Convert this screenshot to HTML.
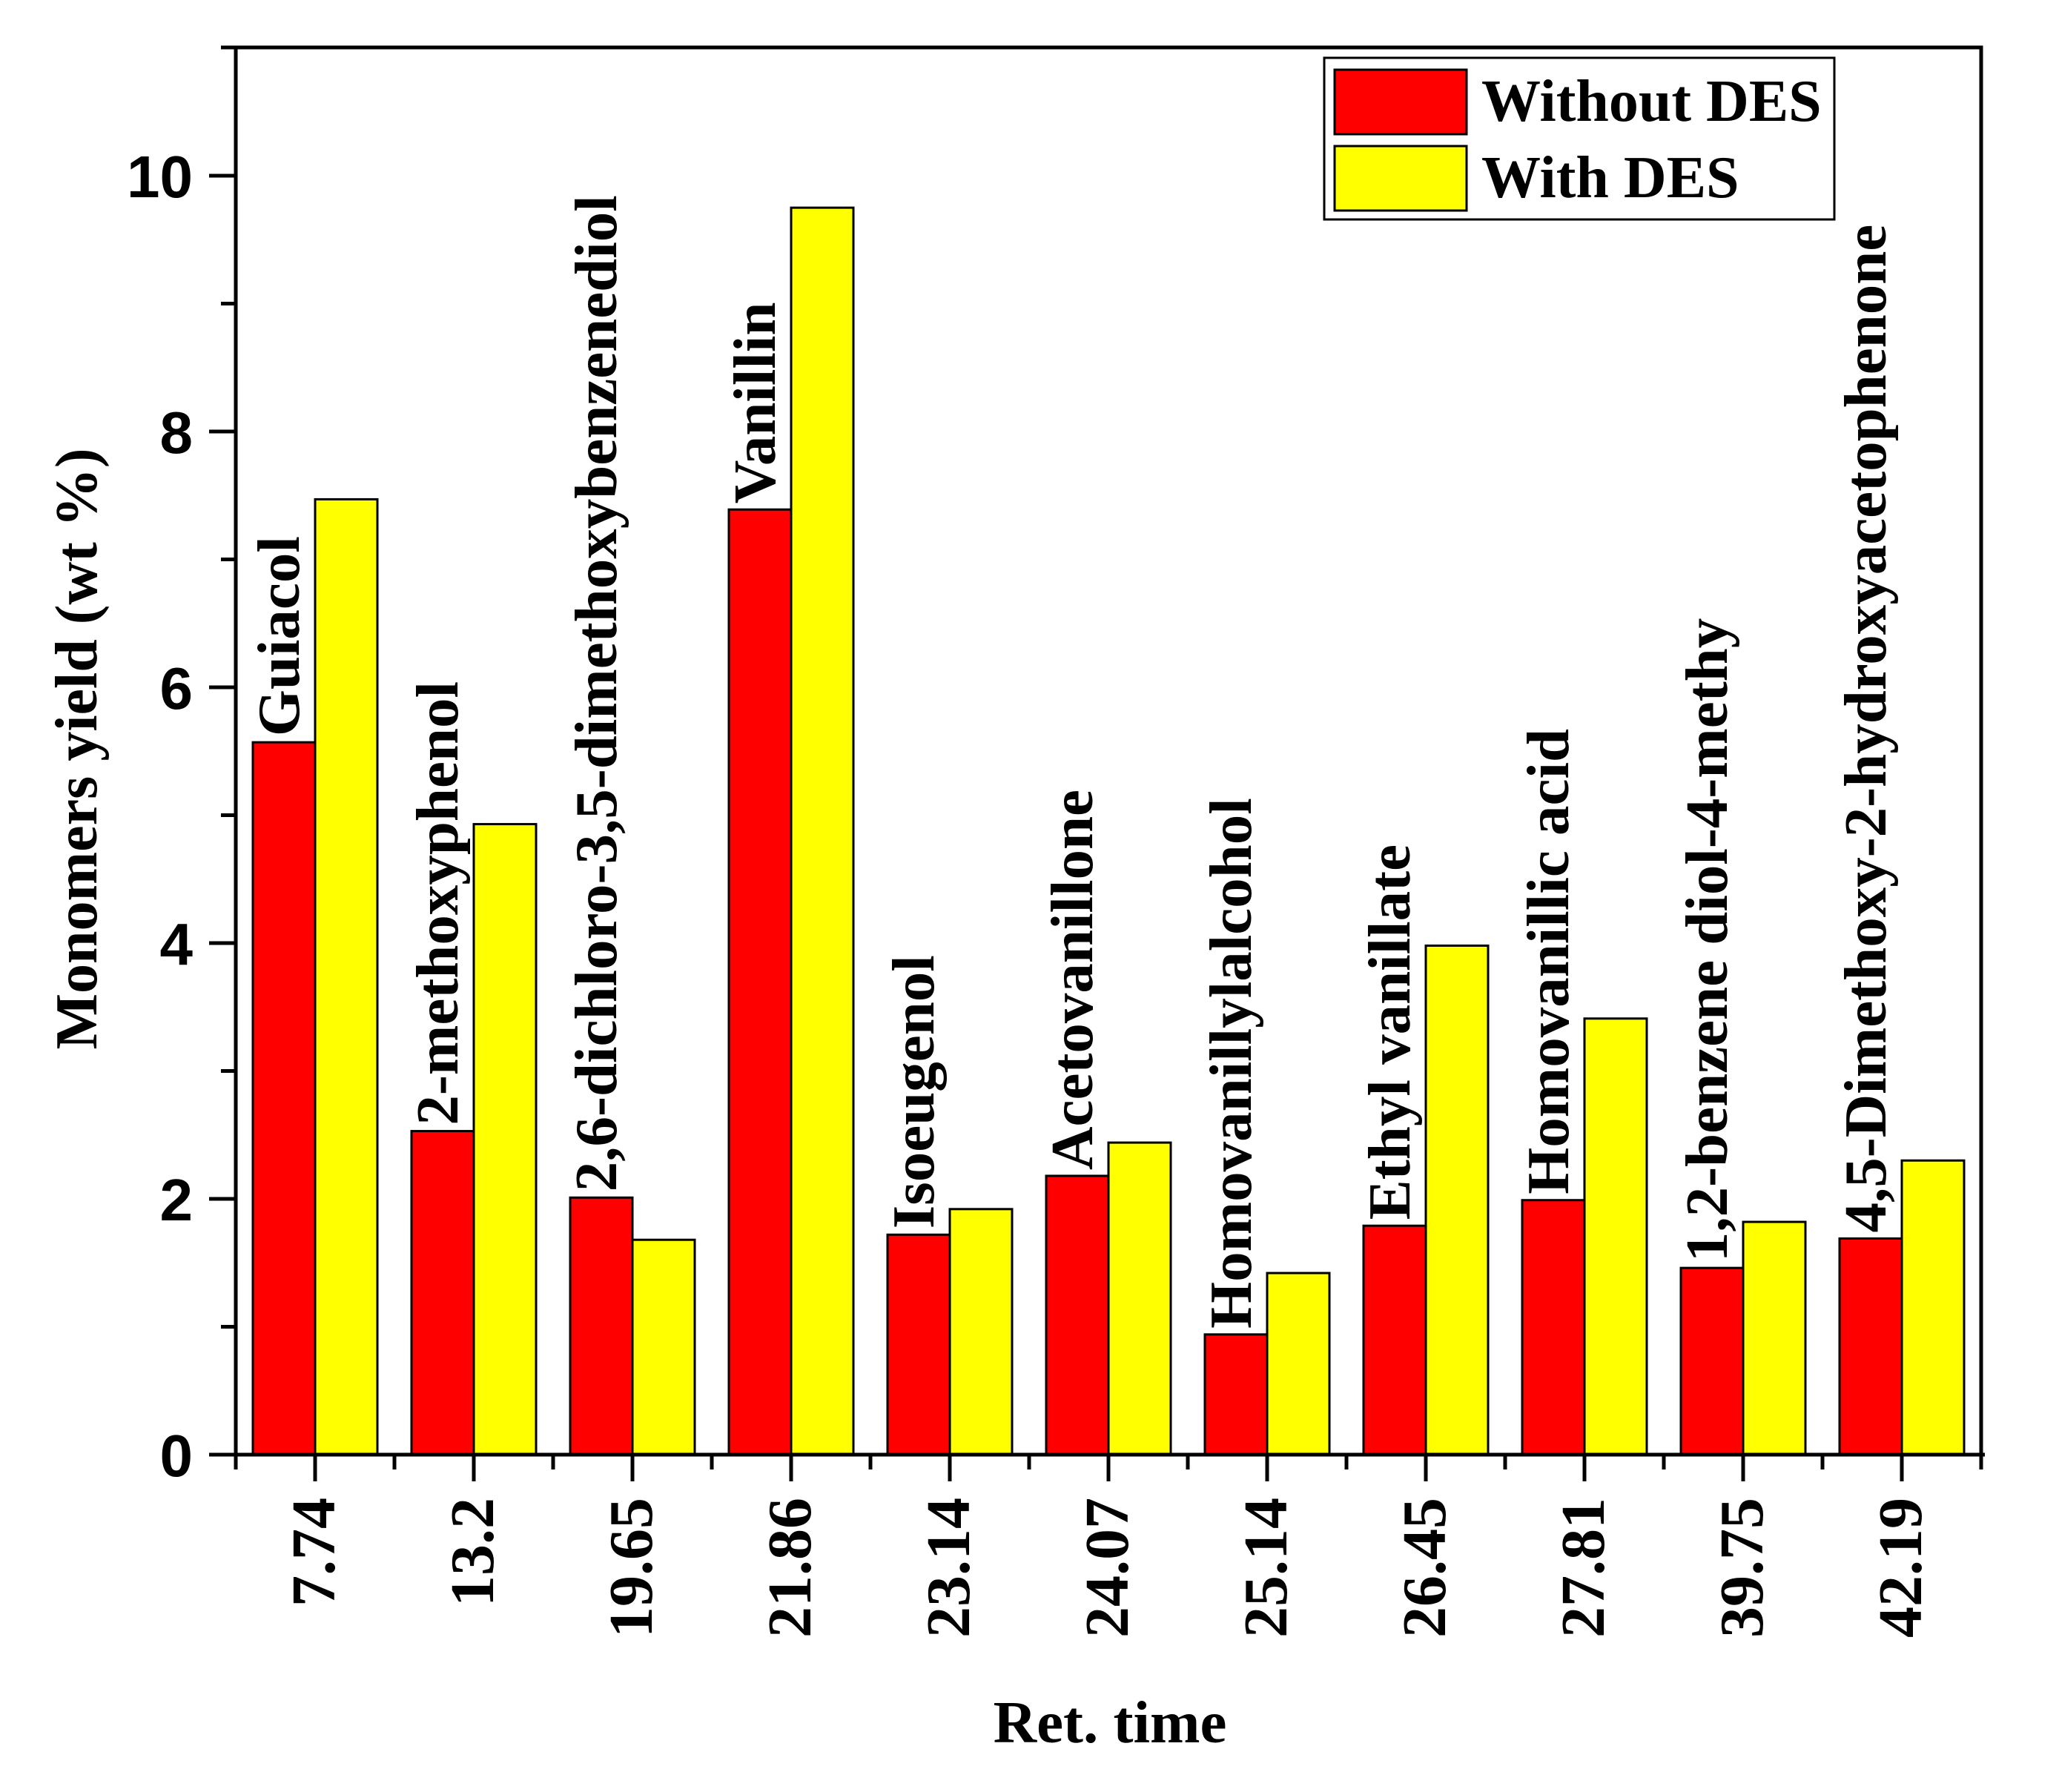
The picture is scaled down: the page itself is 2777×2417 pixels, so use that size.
<!DOCTYPE html>
<html><head><meta charset="utf-8"><style>
html,body{margin:0;padding:0;background:#fff;}
svg{display:block;}
.serif{font-family:"Liberation Serif",serif;font-weight:bold;}
.sans{font-family:"Liberation Sans",sans-serif;font-weight:bold;}
</style></head><body>
<svg id="chart" width="2777" height="2417" viewBox="0 0 2777 2417" xmlns="http://www.w3.org/2000/svg">
<g id="plot"></g>
</svg>
<script>
const categories = ["7.74","13.2","19.65","21.86","23.14","24.07","25.14","26.45","27.81","39.75","42.19"];
const compounds = ["Guiacol","2-methoxyphenol","2,6-dichloro-3,5-dimethoxybenzenediol","Vanillin","Isoeugenol","Acetovanillone","Homovanillylalcohol","Ethyl vanillate","Homovanillic acid","1,2-benzene diol-4-methy","4,5-Dimethoxy-2-hydroxyacetophenone"];
const withoutDES = [5.57,2.53,2.01,7.39,1.72,2.18,0.94,1.79,1.99,1.46,1.69];
const withDES = [7.47,4.93,1.68,9.75,1.92,2.44,1.42,3.98,3.41,1.82,2.30];
const yTicks = [0,2,4,6,8,10];
const yMinor = [1,3,5,7,9];

const NS="http://www.w3.org/2000/svg";
const g=document.getElementById('plot');
const L=318,R=2672,T=64,B=1962;
const y0px=1962, y10px=237;
function yS(v){return y0px-v*(y0px-y10px)/10;}
const step=(R-L)/categories.length;
function xS(i){return L+step*(i+0.5);}
const barW=84;
function mk(tag,attrs,parent){const e=document.createElementNS(NS,tag);for(const k in attrs)e.setAttribute(k,attrs[k]);(parent||g).appendChild(e);return e;}

categories.forEach((c,i)=>{
  const xc=xS(i);
  const r=mk('rect',{x:xc-barW,y:yS(withoutDES[i]),width:barW,height:yS(0)-yS(withoutDES[i]),fill:'#ff0000',stroke:'#000','stroke-width':3});
  
  
  const y=mk('rect',{x:xc,y:yS(withDES[i]),width:barW,height:yS(0)-yS(withDES[i]),fill:'#ffff00',stroke:'#000','stroke-width':3});
  
  
  const lx=xc-barW/2+20, ly=yS(withoutDES[i])-8;
  const t=mk('text',{x:lx,y:ly,transform:`rotate(-90 ${lx} ${ly})`,'font-size':81,class:'serif',fill:'#000'});
  t.textContent=compounds[i];
  
  
  const tx=xc+26, ty=2020;
  const xl=mk('text',{x:tx,y:ty,transform:`rotate(-90 ${tx} ${ty})`,'text-anchor':'end','font-size':84,class:'serif',fill:'#000'});
  xl.textContent=c;
  
  
  const tk=mk('line',{x1:xc,y1:B,x2:xc,y2:B+36,stroke:'#000','stroke-width':5});
  
  
});
for(let i=0;i<=categories.length;i++){
  const x=L+step*i;
  const m=mk('line',{x1:x,y1:B,x2:x,y2:B+20,stroke:'#000','stroke-width':5});
  
  
}
const ax=mk('path',{d:`M${L} ${B}V${T}M${L-20} ${T}H${R}V${B}M${L-25} ${B}H${R+5}`,fill:'none',stroke:'#000','stroke-width':5});


yTicks.forEach(v=>{
  const l=mk('line',{x1:L-36,y1:yS(v),x2:L,y2:yS(v),stroke:'#000','stroke-width':5});
  
  
  const t=mk('text',{x:L-58,y:yS(v)+29,'text-anchor':'end','font-size':80,class:'sans',fill:'#000'});
  t.textContent=v;
  
  
});
yMinor.forEach(v=>{
  const l=mk('line',{x1:L-20,y1:yS(v),x2:L,y2:yS(v),stroke:'#000','stroke-width':5});
  
  
});
const yt=mk('text',{x:130,y:1010,transform:'rotate(-90 130 1010)','text-anchor':'middle','font-size':80,class:'serif',fill:'#000'});
yt.textContent='Monomers yield (wt %)';


const xt=mk('text',{x:1497,y:2350,'text-anchor':'middle','font-size':81,class:'serif',fill:'#000'});
xt.textContent='Ret. time';


const lg=mk('g',{});


mk('rect',{x:1786,y:78,width:688,height:218,fill:'#fff',stroke:'#000','stroke-width':3},lg);
const e1=mk('rect',{x:1800,y:94,width:178,height:87,fill:'#ff0000',stroke:'#000','stroke-width':3},lg);


const e2=mk('rect',{x:1800,y:197,width:178,height:87,fill:'#ffff00',stroke:'#000','stroke-width':3},lg);


const t1=mk('text',{x:1998,y:163,'font-size':80,class:'serif',fill:'#000'},lg);
t1.textContent='Without DES';


const t2=mk('text',{x:1998,y:266,'font-size':80,class:'serif',fill:'#000'},lg);
t2.textContent='With DES';


</script>
</body></html>
